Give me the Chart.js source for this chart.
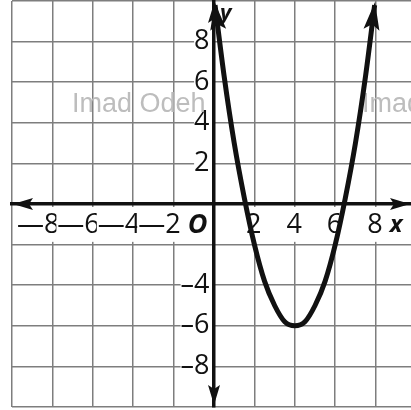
<!DOCTYPE html>
<html>
<head>
<meta charset="utf-8">
<script src="https://cdn.jsdelivr.net/npm/chart.js@4.4.0/dist/chart.umd.min.js"></script>
<style>
  html, body { margin: 0; padding: 0; background: #fff; }
  #wrap { width: 411px; height: 410px; position: relative; }
</style>
</head>
<body>
<div id="wrap"><canvas id="graph"></canvas></div>
<script>
const CURVE_X = [0.05, 0.5, 1, 1.5, 2, 2.5, 3, 3.5, 4, 4.5, 5, 5.5, 6, 6.5, 7, 7.5, 7.95]
const CURVE_Y = [9.8, 6.3, 3, 0.3, -2, -3.8, -5, -5.8, -6, -5.8, -5, -3.8, -2, 0.3, 3, 6.3, 9.8]

const X_TICKS = [-10, -8, -6, -4, -2, 0, 2, 4, 6, 8]
const X_TICK_LABELS = ['', '—8', '—6', '—4', '—2', 'O', '2', '4', '6', '8']
const Y_TICKS = [-10, -8, -6, -4, -2, 0, 2, 4, 6, 8, 10]
const Y_TICK_LABELS = ['', '–8', '–6', '–4', '', '', '2', '4', '6', '8', '']

const WATERMARK = 'Imad Odeh'

const INK = '#111'
const GRID = '#7e7e7e'
const FONT = 'Open Sans'

function arrowHead(ctx, x, y, angle, len, width) {
    ctx.save()
    ctx.translate(x, y)
    ctx.rotate(angle)
    ctx.beginPath()
    ctx.moveTo(0, 0)
    ctx.lineTo(-len, -width / 2)
    ctx.lineTo(-len * 0.8, 0)
    ctx.lineTo(-len, width / 2)
    ctx.closePath()
    ctx.fillStyle = INK
    ctx.fill()
    ctx.restore()
}

const decor = {
    id: 'decor',
    beforeDatasetsDraw(chart) {
        const ctx = chart.ctx
        const a = chart.chartArea
        ctx.save()
        ctx.font = '27px "Liberation Sans"'
        ctx.fillStyle = '#bdbdbd'
        ctx.textBaseline = 'alphabetic'
        ctx.fillText(WATERMARK, a.left + 60, a.top + 111)
        ctx.fillText(WATERMARK, a.left + 350, a.top + 111)
        ctx.restore()
    },
    afterDraw(chart) {
        const ctx = chart.ctx
        const a = chart.chartArea
        const xs = chart.scales.x
        const ys = chart.scales.y
        const x0 = xs.getPixelForValue(0)
        const y0 = ys.getPixelForValue(0)

        // axis arrows
        arrowHead(ctx, a.left + 1, y0, Math.PI, 20, 12)
        arrowHead(ctx, a.right - 1, y0, 0, 20, 12)
        arrowHead(ctx, x0, a.top + 2, -Math.PI / 2, 20, 12)
        arrowHead(ctx, x0, a.bottom - 2, Math.PI / 2, 20, 12)

        // curve arrows
        const pts = chart.getDatasetMeta(0).data
        const ends = [[pts[0], pts[1]], [pts[pts.length - 1], pts[pts.length - 2]]]
        ends.forEach(([p, q]) => {
            const ang = Math.atan2(p.y - q.y, p.x - q.x)
            arrowHead(ctx, p.x + Math.cos(ang) * 3, p.y + Math.sin(ang) * 3, ang, 28, 16)
        })

        // axis letters
        ctx.save()
        ctx.fillStyle = INK
        ctx.font = 'italic bold 24px "' + FONT + '"'
        ctx.textBaseline = 'alphabetic'
        ctx.fillText('x', xs.getPixelForValue(8) + 14, y0 + 28)
        ctx.font = 'italic bold 22px "' + FONT + '"'
        ctx.fillText('y', x0 + 6, a.top + 19)
        ctx.restore()
    }
}

function xFont(ctx) {
    const base = { family: FONT, size: 27, lineHeight: 1.55 }
    if (X_TICK_LABELS[ctx.index] === 'O') return Object.assign(base, { weight: 'bold', style: 'italic' })
    return base
}

function yFont(ctx) {
    if (Y_TICK_LABELS[ctx.index] === '') return { family: FONT, size: 1, lineHeight: 1 }
    return { family: FONT, size: 27, lineHeight: 0.9 }
}

function yPad(ctx) {
    const i = ctx.index
    if (i === 3) return { top: 0, bottom: 8, left: 3, right: 0 }
    if (i === 2) return { top: 8, bottom: 8, left: 3, right: 0 }
    if (i === 1) return { top: 8, bottom: 0, left: 3, right: 0 }
    return { top: 2, bottom: 2, left: 2, right: 0 }
}

const curve = CURVE_X.map((x, i) => ({ x: x, y: CURVE_Y[i] }))

new Chart(document.getElementById('graph'), {
    type: 'line',
    data: {
        datasets: [{
            data: curve,
            borderColor: INK,
            borderWidth: 5,
            pointRadius: 0,
            cubicInterpolationMode: 'monotone',
            fill: false
        }]
    },
    options: {
        responsive: true,
        maintainAspectRatio: false,
        animation: false,
        layout: { padding: { left: 12, top: 1, right: 0, bottom: 3 } },
        plugins: { legend: { display: false }, tooltip: { enabled: false } },
        scales: {
            x: {
                type: 'linear',
                min: -10,
                max: 9.75,
                position: { y: 0 },
                afterBuildTicks: s => { s.ticks = X_TICKS.map(v => ({ value: v })) },
                grid: { color: GRID, lineWidth: 1.5, drawTicks: false, z: -1 },
                border: { color: INK, width: 3.5, z: 1 },
                ticks: {
                    autoSkip: false,
                    maxRotation: 0,
                    minRotation: 0,
                    align: 'end',
                    labelOffset: 7,
                    padding: 0,
                    color: INK,
                    font: xFont,
                    // the origin "O" sits left of the y axis, so pad it on the right
                    callback: (v, i) => X_TICK_LABELS[i] === 'O' ? 'O\u2002' : X_TICK_LABELS[i],
                    showLabelBackdrop: ctx => X_TICK_LABELS[ctx.index] !== '',
                    backdropColor: '#fff',
                    backdropPadding: { top: -3, bottom: -4, left: 1, right: 1 }
                }
            },
            y: {
                type: 'linear',
                min: -10,
                max: 10,
                position: { x: 0 },
                afterBuildTicks: s => { s.ticks = Y_TICKS.map(v => ({ value: v })) },
                grid: { color: GRID, lineWidth: 1.5, drawTicks: false, z: -1 },
                border: { color: INK, width: 3.5, z: 1 },
                ticks: {
                    autoSkip: false,
                    padding: 0,
                    color: INK,
                    font: yFont,
                    callback: (v, i) => Y_TICK_LABELS[i] === '' ? '' : Y_TICK_LABELS[i] + '\u2009',
                    showLabelBackdrop: ctx => Y_TICK_LABELS[ctx.index] !== '',
                    backdropColor: '#fff',
                    backdropPadding: yPad
                }
            }
        }
    },
    plugins: [decor]
})
</script>
</body>
</html>
